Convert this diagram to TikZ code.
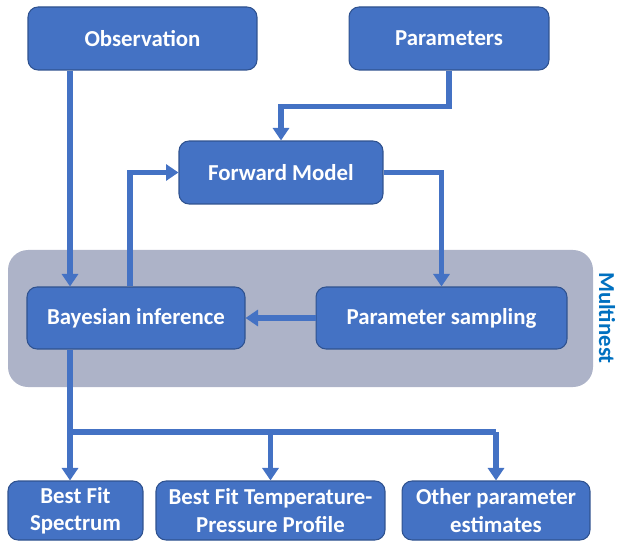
\documentclass[tikz,border=0pt]{standalone}
\usepackage{fontspec}
\setmainfont{Carlito}
\usepackage{tikz}
\usetikzlibrary{positioning,calc,arrows.meta}

\definecolor{boxblue}{HTML}{4472C4}
\definecolor{boxline}{HTML}{2F528F}
\definecolor{bggray}{HTML}{ADB3C8}
\definecolor{labelblue}{HTML}{0070C0}

\tikzset{
    box/.style={draw=boxline, line width=0.6pt, fill=boxblue, rounded corners=0.2cm, text=white,
        font=\fontsize{13}{15.5}\selectfont\bfseries, align=center, inner sep=0pt},
    flow/.style={draw=boxblue, line width=0.11cm, -{Triangle[width=0.32cm,length=0.25cm]}},
    link/.style={draw=boxblue, line width=0.11cm}
}

\begin{document}
\begin{tikzpicture}[x=0.02cm, y=-0.02cm]
    \useasboundingbox (0,0) rectangle (617,543);

    \fill [bggray, rounded corners=0.4cm] (8,250) rectangle (593,387);
    \node [rotate=-90, text=labelblue, font=\fontsize{13}{15.5}\selectfont\bfseries] (multinest) at (607,318) {Multinest};

    \node [box, minimum width=4.58cm, minimum height=1.26cm] (obs) at (142.5,38.5) {Observation};
    \node [box, minimum width=4.0cm, minimum height=1.26cm] (par) at (449,38.5) {Parameters};
    \node [box, minimum width=4.08cm, minimum height=1.26cm] (fwd) at (281,172.5) {Forward Model};
    \node [box, minimum width=4.36cm, minimum height=1.24cm] (bay) at (136,318) {Bayesian inference};
    \node [box, minimum width=5.02cm, minimum height=1.24cm] (samp) at (441.5,318) {Parameter sampling};

    \node [box, minimum width=2.7cm, minimum height=1.18cm] (bfs) at (75.5,510.5) {Best Fit\\Spectrum};
    \node [box, minimum width=4.58cm, minimum height=1.18cm] (tpp) at (270.5,510.5) {Best Fit Temperature-\\Pressure Profile};
    \node [box, minimum width=3.76cm, minimum height=1.18cm] (oth) at (496,510.5) {Other parameter\\estimates};

    \coordinate (loop) at (130,173);
    \coordinate (split) at (70,432);

    \draw [flow] (obs.south -| split) -- (bay.north -| split);
    \draw [flow] (par.south) -- ++(0,36) -| (fwd.north);
    \draw [flow] (fwd.east) -| (samp.north);
    \draw [flow] (samp.west) -- (bay.east);
    \draw [flow] (bay.north -| loop) |- (fwd.west);

    \draw [link] (bay.south -| split) -- (split) -- (split -| oth.north);
    \draw [flow] (split) -- (bfs.north -| split);
    \draw [flow] (split -| tpp.north) -- (tpp.north);
    \draw [flow] (split -| oth.north) -- (oth.north);
\end{tikzpicture}
\end{document}
